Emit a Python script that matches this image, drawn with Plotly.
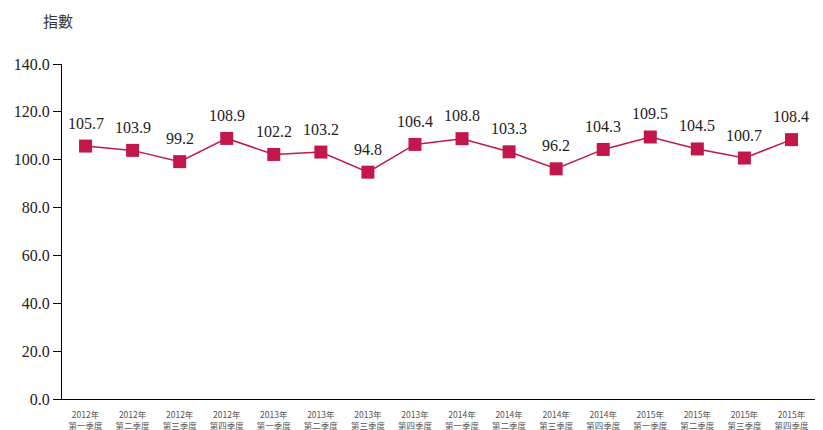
import plotly.graph_objects as go

years = ["2012年"]*4 + ["2013年"]*4 + ["2014年"]*4 + ["2015年"]*4
quarters = ["第一季度", "第二季度", "第三季度", "第四季度"] * 4
values = [105.7, 103.9, 99.2, 108.9, 102.2, 103.2, 94.8, 106.4,
          108.8, 103.3, 96.2, 104.3, 109.5, 104.5, 100.7, 108.4]
categories = [f"{y}<br>{q}" for y, q in zip(years, quarters)]
y_ticks = [0, 20, 40, 60, 80, 100, 120, 140]

color = "#C2174A"
fig = go.Figure()
fig.add_trace(go.Scatter(
    x=categories, y=values, mode="lines+markers",
    line=dict(color=color, width=1.5),
    marker=dict(symbol="square", size=13, color=color),
    cliponaxis=False,
))
annotations = [dict(x=c, y=v, text=f"{v:.1f}", showarrow=False, yshift=23,
                    xanchor="center", yanchor="middle",
                    font=dict(family="Liberation Serif", size=16, color="#222"))
               for c, v in zip(categories, values)]
annotations.append(dict(text="指數", xref="paper", yref="paper", x=0, y=1.0,
                        xshift=-4, yshift=44, xanchor="center", yanchor="middle",
                        showarrow=False,
                        font=dict(family="Noto Sans CJK TC", size=15, color="#333")))
fig.update_layout(
    width=823, height=430,
    margin=dict(l=54, r=16, t=56, b=39),
    plot_bgcolor="white", paper_bgcolor="white",
    showlegend=False,
    xaxis=dict(showline=True, linecolor="black", linewidth=1, showgrid=False,
               ticks="", ticklabelstandoff=8,
               tickfont=dict(family="Noto Sans CJK TC", size=8.5, color="#555"),
               range=[-0.5, 15.5], automargin=False),
    yaxis=dict(showline=True, linecolor="black", linewidth=1, showgrid=False,
               range=[0, 140], tickvals=y_ticks, ticktext=[f"{v:.1f}" for v in y_ticks],
               ticks="outside", ticklen=8, tickcolor="black",
               tickfont=dict(family="Liberation Serif", size=16, color="#222"),
               zeroline=False, automargin=False),
    annotations=annotations,
)
fig.write_html("out.html")
